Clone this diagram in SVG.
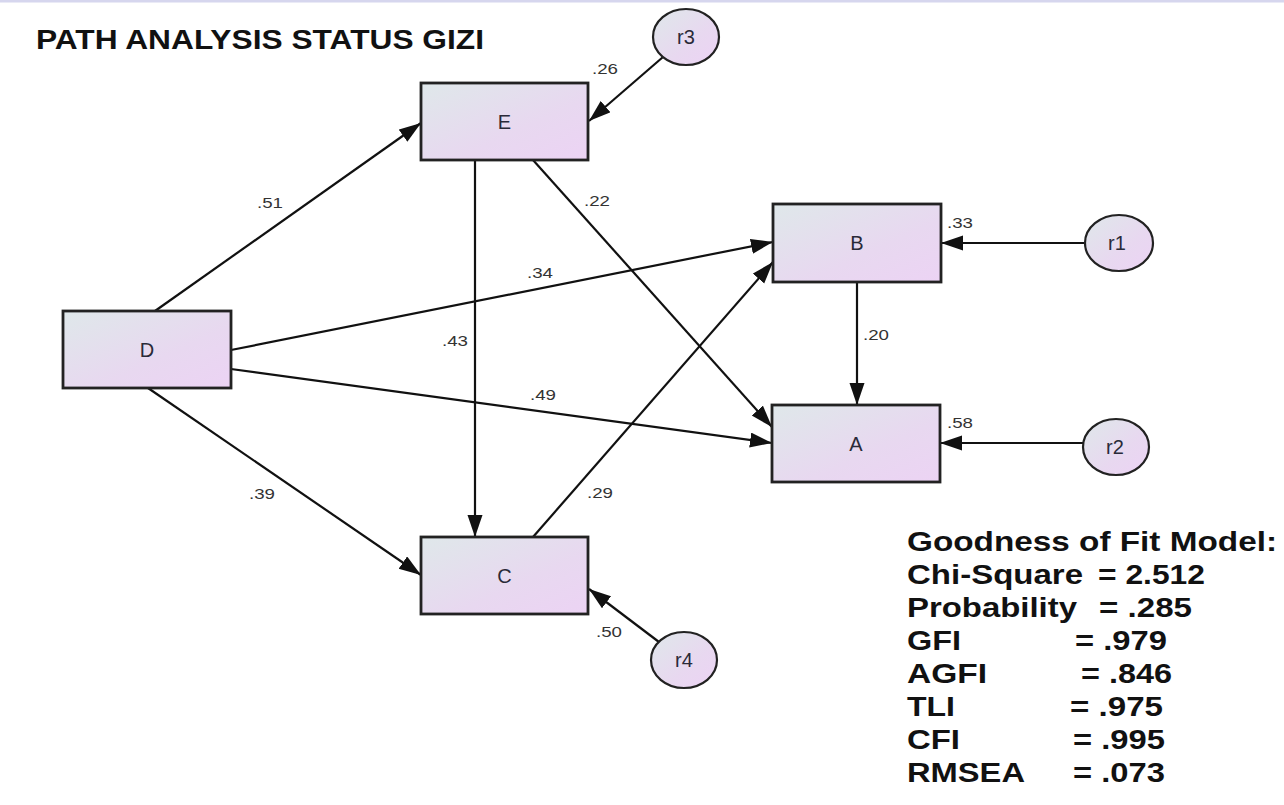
<svg xmlns="http://www.w3.org/2000/svg" width="1284" height="805" viewBox="0 0 1284 805">
<defs>
<linearGradient id="gBox" x1="0" y1="0" x2="1" y2="1">
<stop offset="0" stop-color="#dfe8ea"/>
<stop offset="0.6" stop-color="#e8d8f0"/>
<stop offset="1" stop-color="#ecd3f4"/>
</linearGradient>
<marker id="arr" markerUnits="userSpaceOnUse" markerWidth="24" markerHeight="16" refX="22" refY="7.5" orient="auto">
<path d="M0,0 L22,7.5 L0,15 z" fill="#111"/>
</marker>
<style>
.box{fill:url(#gBox);stroke:#222;stroke-width:2.8}
.circ{fill:url(#gBox);stroke:#222;stroke-width:2.2}
.nlab{font-family:"Liberation Sans",Arial,sans-serif;font-size:20px;fill:#2a2a38;text-anchor:middle}
.elab{font-family:"Liberation Sans",Arial,sans-serif;font-size:15px;fill:#333}
.edge{stroke:#111;stroke-width:2.2;fill:none;marker-end:url(#arr)}
.title{font-family:"Liberation Sans",Arial,sans-serif;font-weight:bold;font-size:27px;fill:#111}
.fit{font-family:"Liberation Sans",Arial,sans-serif;font-weight:bold;font-size:27px;fill:#111}
</style>
</defs>
<rect x="0" y="0" width="1284" height="805" fill="#ffffff"/>
<rect x="0" y="0" width="1284" height="2.5" fill="#d6d6ee"/>

<text class="title" x="36" y="49" textLength="448" lengthAdjust="spacingAndGlyphs">PATH ANALYSIS STATUS GIZI</text>

<g id="connectors">
<line class="edge" x1="155" y1="311" x2="421" y2="123"/>
<line class="edge" x1="475" y1="160" x2="475" y2="537"/>
<line class="edge" x1="533" y1="160" x2="772" y2="427"/>
<line class="edge" x1="231" y1="350" x2="773" y2="242"/>
<line class="edge" x1="533" y1="537" x2="773" y2="262"/>
<line class="edge" x1="231" y1="369" x2="772" y2="443"/>
<line class="edge" x1="148" y1="388" x2="421" y2="575"/>
<line class="edge" x1="857" y1="282" x2="857" y2="405"/>
<line class="edge" x1="1085" y1="243" x2="941" y2="243"/>
<line class="edge" x1="1083" y1="443" x2="940" y2="443"/>
<line class="edge" x1="663" y1="57" x2="589" y2="121"/>
<line class="edge" x1="659" y1="642" x2="589" y2="589"/>
<text class="elab" x="257" y="208" textLength="26" lengthAdjust="spacingAndGlyphs">.51</text>
<text class="elab" x="584" y="206" textLength="26" lengthAdjust="spacingAndGlyphs">.22</text>
<text class="elab" x="527" y="278" textLength="26" lengthAdjust="spacingAndGlyphs">.34</text>
<text class="elab" x="442" y="346" textLength="26" lengthAdjust="spacingAndGlyphs">.43</text>
<text class="elab" x="863" y="340" textLength="26" lengthAdjust="spacingAndGlyphs">.20</text>
<text class="elab" x="530" y="400" textLength="26" lengthAdjust="spacingAndGlyphs">.49</text>
<text class="elab" x="249" y="499" textLength="26" lengthAdjust="spacingAndGlyphs">.39</text>
<text class="elab" x="587" y="498" textLength="26" lengthAdjust="spacingAndGlyphs">.29</text>
<text class="elab" x="592" y="74" textLength="26" lengthAdjust="spacingAndGlyphs">.26</text>
<text class="elab" x="947" y="228" textLength="26" lengthAdjust="spacingAndGlyphs">.33</text>
<text class="elab" x="947" y="428" textLength="26" lengthAdjust="spacingAndGlyphs">.58</text>
<text class="elab" x="596" y="637" textLength="26" lengthAdjust="spacingAndGlyphs">.50</text>
</g>

<g id="node-E"><rect class="box" x="421" y="83" width="167" height="77"/><text class="nlab" x="504.5" y="129">E</text></g>
<g id="node-D"><rect class="box" x="63" y="311" width="168" height="77"/><text class="nlab" x="147" y="357">D</text></g>
<g id="node-B"><rect class="box" x="773" y="204" width="168" height="78"/><text class="nlab" x="857" y="250">B</text></g>
<g id="node-A"><rect class="box" x="772" y="405" width="168" height="77"/><text class="nlab" x="856" y="451">A</text></g>
<g id="node-C"><rect class="box" x="421" y="537" width="167" height="77"/><text class="nlab" x="504.5" y="583">C</text></g>

<g id="node-r3"><ellipse class="circ" cx="686" cy="37" rx="33" ry="28"/><text class="nlab" x="686" y="44">r3</text></g>
<g id="node-r1"><ellipse class="circ" cx="1119" cy="243" rx="34" ry="28"/><text class="nlab" x="1117" y="250">r1</text></g>
<g id="node-r2"><ellipse class="circ" cx="1116" cy="447" rx="33" ry="28"/><text class="nlab" x="1115" y="454">r2</text></g>
<g id="node-r4"><ellipse class="circ" cx="684" cy="660" rx="33" ry="28"/><text class="nlab" x="684" y="667">r4</text></g>

<g id="fit">
<text class="fit" x="907" y="551" textLength="370" lengthAdjust="spacingAndGlyphs">Goodness of Fit Model:</text>
<text class="fit" x="907" y="584" textLength="176" lengthAdjust="spacingAndGlyphs">Chi-Square</text>
<text class="fit" x="1098" y="584" textLength="107" lengthAdjust="spacingAndGlyphs">= 2.512</text>
<text class="fit" x="907" y="617" textLength="170" lengthAdjust="spacingAndGlyphs">Probability</text>
<text class="fit" x="1099" y="617" textLength="93" lengthAdjust="spacingAndGlyphs">= .285</text>
<text class="fit" x="907" y="650" textLength="54" lengthAdjust="spacingAndGlyphs">GFI</text>
<text class="fit" x="1075" y="650" textLength="92" lengthAdjust="spacingAndGlyphs">= .979</text>
<text class="fit" x="907" y="683" textLength="80" lengthAdjust="spacingAndGlyphs">AGFI</text>
<text class="fit" x="1081" y="683" textLength="91" lengthAdjust="spacingAndGlyphs">= .846</text>
<text class="fit" x="907" y="716" textLength="48" lengthAdjust="spacingAndGlyphs">TLI</text>
<text class="fit" x="1070" y="716" textLength="93" lengthAdjust="spacingAndGlyphs">= .975</text>
<text class="fit" x="907" y="749" textLength="53" lengthAdjust="spacingAndGlyphs">CFI</text>
<text class="fit" x="1073" y="749" textLength="92" lengthAdjust="spacingAndGlyphs">= .995</text>
<text class="fit" x="907" y="782" textLength="118" lengthAdjust="spacingAndGlyphs">RMSEA</text>
<text class="fit" x="1073" y="782" textLength="92" lengthAdjust="spacingAndGlyphs">= .073</text>
</g>
</svg>
